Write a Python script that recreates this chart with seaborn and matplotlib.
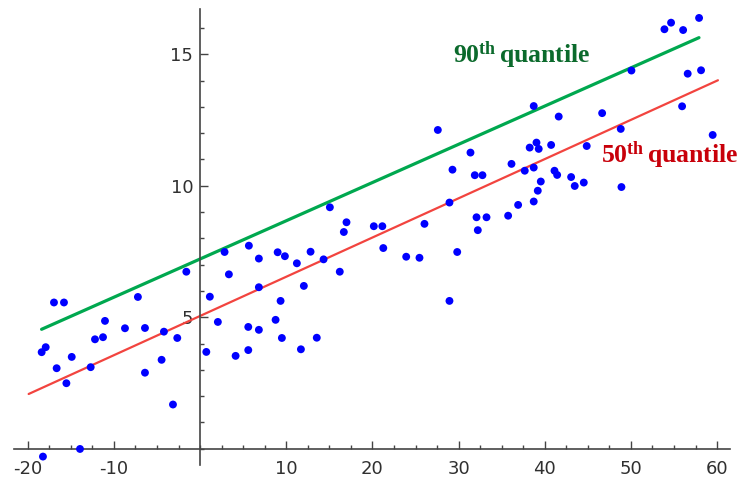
import matplotlib
matplotlib.use("Agg")
import matplotlib.pyplot as plt
from matplotlib.ticker import MultipleLocator, FixedLocator
import seaborn as sns
import pandas as pd

# observed sample (x, y)
x_vals = [
    -18.39, -17.92, -16.96, -15.80, -16.65, -15.52, -14.90, -18.24, -13.94, -12.70,
    -12.20, -11.27, -11.04, -8.72, -7.22, -6.40, -6.40, -4.47, -4.20, -3.15,
    -2.65, -1.60, 0.72, 1.13, 2.06, 2.84, 3.34, 4.12,
    15.06, 16.99, 16.68, 20.16, 21.15, 21.26, 16.21, 26.04, 23.92, 25.46,
    28.94, 29.84, 28.94, 32.08, 33.24, 32.23, 5.66, 6.82, 6.82, 5.59,
    6.82, 5.59, 8.76, 9.34, 9.49, 9.00, 9.84, 11.23, 12.04, 11.70,
    12.82, 14.33, 13.54,
    27.59, 31.38, 29.29, 31.88, 32.77,
    53.89, 54.66, 56.06, 57.91, 56.59, 58.14, 50.06, 55.94, 59.49, 46.66,
    48.82, 44.87, 41.62, 38.72, 39.04, 39.30, 38.25, 40.74, 36.14, 37.68,
    38.72, 41.13, 41.44, 39.54, 39.19, 43.06, 43.48, 44.53, 48.90, 38.72,
    36.91, 35.75,
]
y_vals = [
    3.67, 3.86, 5.56, 5.56, 3.06, 2.49, 3.49, -0.30, -0.01, 3.10,
    4.16, 4.24, 4.86, 4.58, 5.77, 4.59, 2.89, 3.38, 4.45, 1.68,
    4.21, 6.73, 3.68, 5.78, 4.82, 7.48, 6.63, 3.53,
    9.18, 8.61, 8.24, 8.46, 8.46, 7.63, 6.73, 8.55, 7.30, 7.26,
    9.36, 7.48, 5.62, 8.80, 8.80, 8.31, 7.72, 7.23, 6.14, 4.63,
    4.52, 3.75, 4.90, 5.62, 4.21, 7.47, 7.32, 7.05, 6.19, 3.78,
    7.49, 7.20, 4.22,
    12.12, 11.26, 10.61, 10.40, 10.40,
    15.95, 16.20, 15.92, 16.38, 14.26, 14.39, 14.38, 13.02, 11.93, 12.76,
    12.16, 11.51, 12.63, 13.03, 11.64, 11.40, 11.45, 11.55, 10.83, 10.57,
    10.69, 10.57, 10.41, 10.16, 9.81, 10.33, 9.99, 10.12, 9.95, 9.40,
    9.27, 8.86,
]

# fitted quantile lines (endpoints)
q90_x = [-18.4, 57.9]
q90_y = [4.54, 15.63]
q50_x = [-19.9, 60.1]
q50_y = [2.08, 14.01]

x_ticks = [-20, -10, 10, 20, 30, 40, 50, 60]
y_ticks = [5, 10, 15]

sns.set_style("white")
plt.rcParams["font.family"] = ["DejaVu Sans"]
plt.rcParams["axes.unicode_minus"] = False
plt.rcParams["mathtext.fontset"] = "custom"
plt.rcParams["mathtext.rm"] = "Liberation Serif:bold"
plt.rcParams["mathtext.bf"] = "Liberation Serif:bold"
plt.rcParams["mathtext.it"] = "Liberation Serif:bold"

fig = plt.figure(figsize=(7.45, 4.79), dpi=100)
ax = fig.add_axes([14 / 745, 1 - 465 / 479, 716 / 745, 456 / 479])

pts = pd.DataFrame({"x": x_vals, "y": y_vals})
l90 = pd.DataFrame({"x": q90_x, "y": q90_y})
l50 = pd.DataFrame({"x": q50_x, "y": q50_y})

sns.lineplot(data=l90, x="x", y="y", ax=ax, color="#00a84f", linewidth=2.3, zorder=2)
sns.lineplot(data=l50, x="x", y="y", ax=ax, color="#f2443f", linewidth=1.6, zorder=2)
sns.scatterplot(data=pts, x="x", y="y", ax=ax, color="#0000ff", s=32,
                edgecolor="none", linewidth=0, zorder=3)

ax.set_xlim(-21.6, 61.5)
ax.set_ylim(-0.62, 16.72)
ax.set_xlabel("")
ax.set_ylabel("")

for side in ("top", "right"):
    ax.spines[side].set_visible(False)
ax.spines["left"].set_position(("data", 0))
ax.spines["bottom"].set_position(("data", 0))
for side in ("left", "bottom"):
    ax.spines[side].set_color("#444444")
    ax.spines[side].set_linewidth(1.2)

ax.xaxis.set_major_locator(FixedLocator(x_ticks))
ax.yaxis.set_major_locator(FixedLocator(y_ticks))
ax.xaxis.set_minor_locator(MultipleLocator(2.5))
ax.yaxis.set_minor_locator(MultipleLocator(1))
ax.tick_params(axis="x", which="both", bottom=True)
ax.tick_params(axis="y", which="both", left=True)
ax.tick_params(axis="x", which="major", direction="in", length=6, width=1.0,
               color="#444444", labelsize=13, labelcolor="#303030", pad=8)
ax.tick_params(axis="y", which="major", direction="in", length=6, width=1.0,
               color="#444444", labelsize=13, labelcolor="#303030", pad=5)
ax.tick_params(which="minor", direction="in", length=3, width=1.0, color="#444444")

ax.text(29.4, 14.7, r"$90^{th}\,quantile$", color="#0b6a2c", fontsize=18.5,
        ha="left", va="baseline", zorder=4)
ax.text(46.5, 10.87, r"$50^{th}\,quantile$", color="#c8000a", fontsize=18.5,
        ha="left", va="baseline", zorder=4)

fig.savefig("out.png", dpi=100)
